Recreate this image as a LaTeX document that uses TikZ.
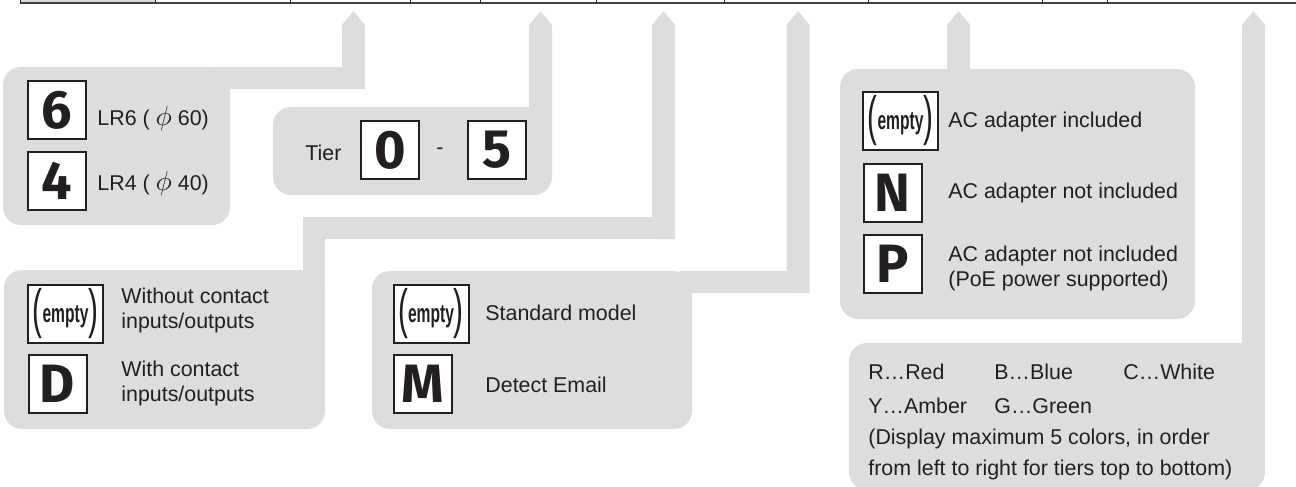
\documentclass[tikz,border=0pt]{standalone}
\usepackage{fontspec}
\setmainfont{Liberation Sans}
\newfontfamily\keyfont{Fira Sans}
\usepackage{graphicx}
\definecolor{panelgray}{RGB}{220,221,223}
\definecolor{cellgray}{RGB}{217,217,217}
\definecolor{inkgray}{RGB}{35,31,32}
\tikzset{
  panel/.style={fill=panelgray, rounded corners=9pt},
  keybox/.style={draw=inkgray, line width=1pt, fill=white, minimum width=29pt, minimum height=29pt,
    inner sep=0pt, text=inkgray, font=\keyfont\bfseries\fontsize{27}{27}\selectfont},
  widebox/.style={keybox, minimum width=37.5pt},
  keytext/.style={anchor=west, inner sep=0pt, align=left, text=inkgray, font=\fontsize{10.7}{12.8}\selectfont},
}
\newcommand{\emptykey}{%
  \scalebox{0.55}[1]{\normalfont\fontsize{27}{27}\selectfont(}%
  \raisebox{2.5pt}{\scalebox{0.6}[1]{\normalfont\bfseries\fontsize{13}{13}\selectfont empty}}%
  \scalebox{0.55}[1]{\normalfont\fontsize{27}{27}\selectfont)}}
\newcommand{\diam}{\scalebox{1.25}{$\phi$}}
\begin{document}
\begin{tikzpicture}[x=0.5pt,y=-0.5pt]
\useasboundingbox (0,0) rectangle (1296,487);
\clip (0,0) rectangle (1296,487);
% code row
\fill[cellgray] (20,-10) rectangle (155,3);
\foreach \x in {20,155,290,410,480,596,724,868,1042,1107}
  \draw[inkgray, line width=0.5pt] (\x,-10) -- (\x,3);
\draw[inkgray!85, line width=1.2pt] (20,3) -- (1300,3);

% pointers
\foreach \cx/\yb in {353.5/89, 540.5/130, 663.5/239, 798/293, 958.5/90, 1253.5/360}
  \fill[panelgray] (\cx,11) -- (\cx+11.5,25) -- (\cx+11.5,\yb) -- (\cx-11.5,\yb) -- (\cx-11.5,25) -- cycle;
\fill[panelgray] (215,67) rectangle (365,89);
\fill[panelgray] (303,217) rectangle (675,239);
\fill[panelgray] (303,217) rectangle (325,290);
\fill[panelgray] (680,271) rectangle (809,293);

% panels
\fill[panel] (3,67) rectangle (230,225);
\fill[panel] (273,107) rectangle (552,195);
\fill[panel] (4,270) rectangle (325,429);
\fill[panel] (372,271) rectangle (692,429);
\fill[panel] (840,69) rectangle (1195,319);
\fill[panel] (849,343) rectangle (1265,490);

% lens size
\node[keybox] (six) at (57,110) {6};
\node[keytext] (lrsix) at (97,119) {LR6 ( \diam\ 60)};
\node[keybox] (four) at (57,181) {4};
\node[keytext] (lrfour) at (97,184) {LR4 ( \diam\ 40)};

% tiers
\node[keytext] (tier) at (305,153) {Tier};
\node[keybox] (tiermin) at (390,150) {0};
\node[keytext] (dash) at (436,151) {-};
\node[keybox] (tiermax) at (496.5,150) {5};

% contacts
\node[widebox] (noio) at (65.5,313.5) {\emptykey};
\node[keytext] (noiotext) at (121,310.5) {Without contact\\inputs/outputs};
\node[keybox] (io) at (57.5,384) {D};
\node[keytext] (iotext) at (121,383.5) {With contact\\inputs/outputs};

% model
\node[widebox] (std) at (431,313.5) {\emptykey};
\node[keytext] (stdtext) at (485,313) {Standard model};
\node[keybox] (mail) at (423,384) {M};
\node[keytext] (mailtext) at (485,385) {Detect Email};

% power
\node[widebox] (acin) at (900.5,121) {\emptykey};
\node[keytext] (acintext) at (948,122) {AC adapter included};
\node[keybox] (acno) at (892.5,192.5) {N};
\node[keytext] (acnotext) at (948,193) {AC adapter not included};
\node[keybox] (poe) at (892.5,264) {P};
\node[keytext] (poetext) at (948,268.5) {AC adapter not included\\(PoE power supported)};

% colours
\foreach \name/\txt/\x/\y in {red/R…Red/868/372, blue/B…Blue/994/372, white/C…White/1123/372,
    amber/Y…Amber/868/406, green/G…Green/994/406}
  \node[keytext] (\name) at (\x,\y) {\txt};
\node[keytext, font=\fontsize{10.7}{15.5}\selectfont] (order) at (868,454.5)
  {(Display maximum 5 colors, in order\\from left to right for tiers top to bottom)};
\end{tikzpicture}
\end{document}
